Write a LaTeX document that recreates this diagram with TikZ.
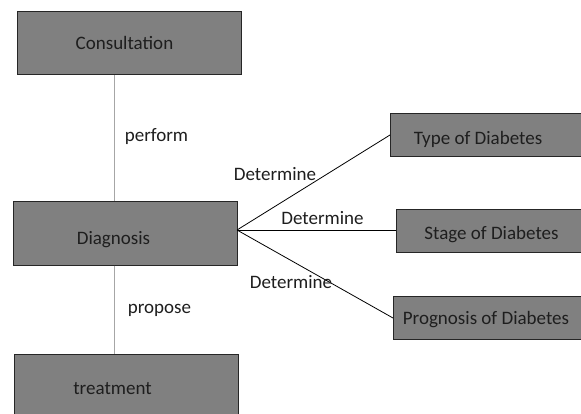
\documentclass[tikz,border=0pt]{standalone}
\usepackage{fontspec}
\setmainfont{Carlito}
\begin{document}
\begin{tikzpicture}[x=1pt,y=-1pt,
  box/.style={draw=black!85,fill=boxgray,line width=1pt,inner sep=0pt},
  lbl/.style={font=\fontsize{19}{22}\selectfont,text=textdark,inner sep=0pt,yshift=-2pt},
  vlink/.style={draw=linkgray,line width=1pt},
  dlink/.style={draw=black,line width=0.8pt}]
\definecolor{boxgray}{HTML}{808080}
\definecolor{textdark}{HTML}{1E1E1E}
\definecolor{linkgray}{HTML}{A6A6A6}
\useasboundingbox (0,0) rectangle (581,414);
\begin{scope}
\clip (0,0) rectangle (581,414);
% boxes, sized by their corners
\node[box,minimum width=224,minimum height=63] (cons) at (129,43.5) {};
\node[box,minimum width=224,minimum height=63] (diag) at (125,233.5) {};
\node[box,minimum width=224,minimum height=63,anchor=north] (treat) at (126,354) {};
\node[box,minimum width=192,minimum height=43,anchor=north west] (type) at (390,113) {};
\node[box,minimum width=186,minimum height=43,anchor=north west] (stage) at (396,209) {};
\node[box,minimum width=189,minimum height=43,anchor=north west] (prog) at (393,296) {};
\end{scope}
% box captions
\node[lbl] (tcons) at (124.5,41) {Consultation};
\node[lbl] (tdiag) at (113.5,238) {Diagnosis};
\node[lbl] (ttreat) at (112.5,387) {treatment};
\node[lbl] (ttype) at (478,137) {Type of Diabetes};
\node[lbl] (tstage) at (491.5,233) {Stage of Diabetes};
\node[lbl] (tprog) at (486,318) {Prognosis of Diabetes};
% connectors
\draw[vlink] (cons.south -| 114,0) -- (diag.north -| 114,0);
\draw[vlink] (diag.south -| 114,0) -- (treat.north -| 114,0);
\coordinate (dr) at (237,230);
\draw[dlink] (dr) -- (type.west);
\draw[dlink] (dr) -- (stage.west |- dr);
\draw[dlink] (dr) -- (prog.west);
% labels
\node[lbl] (lperf) at (156.5,135) {perform};
\node[lbl] (lprop) at (159.5,308) {propose};
\node[lbl] (ld1) at (275,172) {Determine};
\node[lbl] (ld2) at (322.5,216) {Determine};
\node[lbl] (ld3) at (291,280) {Determine};
\end{tikzpicture}
\end{document}
